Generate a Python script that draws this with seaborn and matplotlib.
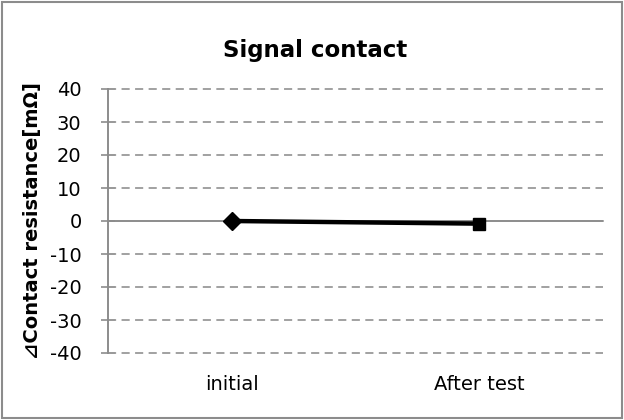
import matplotlib
matplotlib.use("Agg")
import matplotlib.pyplot as plt
import seaborn as sns
import pandas as pd

# Data
categories = ["initial", "After test"]
values = [0, -0.8]
yticks = [-40, -30, -20, -10, 0, 10, 20, 30, 40]

sns.set_theme(style="white")
plt.rcParams['font.family'] = ['DejaVu Sans', 'Noto Sans CJK JP']
plt.rcParams['text.color'] = "black"

df = pd.DataFrame({"x": [0.5, 1.5], "cat": categories, "val": values})

fig = plt.figure(figsize=(6.24, 4.20), dpi=100)
ax = fig.add_axes([108 / 624, 1 - 353 / 420, (603 - 108) / 624, (353 - 89) / 420])

# Grid lines (dashed), zero line solid
for t in yticks:
    if t == 0:
        ax.axhline(t, color="#8c8c8c", lw=1.4, zorder=1, clip_on=False)
    else:
        ax.axhline(t, color="#9a9a9a", lw=1.3, ls=(0, (4.5, 3)), zorder=1, clip_on=False)

sns.lineplot(data=df, x="x", y="val", color="black", lw=3.2, ax=ax, zorder=3)
ax.plot(df["x"][:1], df["val"][:1], marker="D", ms=9, color="black", ls="none", zorder=4)
ax.plot(df["x"][1:], df["val"][1:], marker="s", ms=9, color="black", ls="none", zorder=4)
ax.plot(df["x"][1:], df["val"][1:], marker="X", ms=9, color="black", ls="none", zorder=4)

ax.set_xlim(0, 2)
ax.set_ylim(-40, 40)
ax.set_yticks(yticks)
ax.set_yticklabels([str(t) for t in yticks], fontsize=14, color="black")
ax.set_xticks([0.5, 1.5])
ax.set_xticklabels(categories, fontsize=14, color="black")
ax.tick_params(axis="y", length=10, width=1.2, color="#8c8c8c", direction="inout", pad=14, left=True)
ax.tick_params(axis="x", length=0, pad=16)
ax.set_xlabel("")
ax.set_ylabel("⊿Contact resistance[mΩ]", fontsize=14, fontweight="bold", color="black", labelpad=6)

for s in ["top", "right", "bottom"]:
    ax.spines[s].set_visible(False)
ax.spines["left"].set_color("#8c8c8c")
ax.spines["left"].set_linewidth(1.4)

fig.text(0.505, 1 - 57 / 420, "Signal contact", ha="center", va="baseline",
         fontsize=16.5, fontweight="bold", color="black")

# outer border
border = plt.Rectangle((0.003, 0.004), 0.994, 0.992, transform=fig.transFigure,
                       fill=False, edgecolor="#8c8c8c", lw=1.5)
fig.patches.append(border)

fig.savefig("out.png", dpi=100)
